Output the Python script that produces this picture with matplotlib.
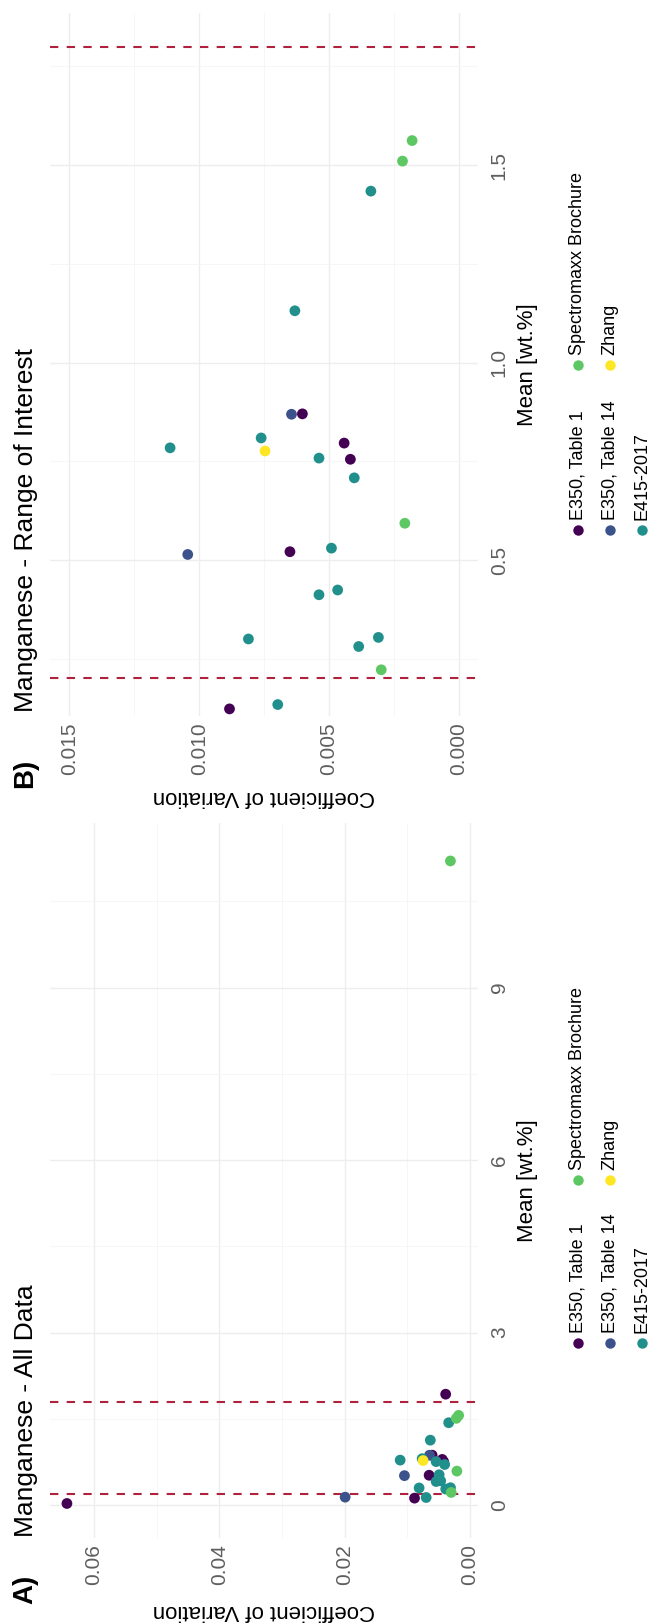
import matplotlib.pyplot as plt
from matplotlib.lines import Line2D
from matplotlib.ticker import FixedLocator

plt.rcParams['font.family'] = ['Liberation Sans', 'DejaVu Sans']

# ==============================
# DATA
# ==============================
SOURCES = ["E350, Table 1", "E350, Table 14", "E415-2017", "Spectromaxx Brochure", "Zhang"]
SOURCE_COLORS = ["#440154", "#3B528B", "#21908C", "#5DC863", "#FDE725"]

# mean [wt.%], coefficient of variation and source of every Mn entry
mean_wt = [1.562, 1.510, 1.434, 1.131, 0.869, 0.870, 0.809, 0.776, 0.784, 0.796,
           0.755, 0.758, 0.708, 0.593, 0.521, 0.530, 0.514, 0.412, 0.424, 0.300,
           0.304, 0.281, 0.222, 0.123, 0.134, 0.03, 0.14, 1.93, 11.2]
cv = [0.00179, 0.00216, 0.00338, 0.00631, 0.00644, 0.00602, 0.00761, 0.00746, 0.01112, 0.00441,
      0.00417, 0.00538, 0.00402, 0.00207, 0.00650, 0.00490, 0.01044, 0.00538, 0.00466, 0.00810,
      0.00309, 0.00385, 0.00298, 0.00883, 0.00697, 0.0643, 0.0199, 0.00386, 0.0031]
source = ["Spectromaxx Brochure", "Spectromaxx Brochure", "E415-2017", "E415-2017", "E350, Table 14",
          "E350, Table 1", "E415-2017", "Zhang", "E415-2017", "E350, Table 1",
          "E350, Table 1", "E415-2017", "E415-2017", "Spectromaxx Brochure", "E350, Table 1",
          "E415-2017", "E350, Table 14", "E415-2017", "E415-2017", "E415-2017",
          "E415-2017", "E415-2017", "Spectromaxx Brochure", "E350, Table 1", "E415-2017",
          "E350, Table 1", "E350, Table 14", "E350, Table 1", "Spectromaxx Brochure"]

RANGE_LIMITS = [0.2, 1.8]   # range of interest, dashed lines

# panel A - all data
A_MEAN_TICKS = [0, 3, 6, 9]
A_MEAN_LABELS = ["0", "3", "6", "9"]
A_CV_TICKS = [0.00, 0.02, 0.04, 0.06]
A_CV_LABELS = ["0.00", "0.02", "0.04", "0.06"]
A_MEAN_LIM = (-0.57, 11.86)
A_CV_LIM = (-0.0013, 0.067)

# panel B - range of interest
B_MEAN_TICKS = [0.5, 1.0, 1.5]
B_MEAN_LABELS = ["0.5", "1.0", "1.5"]
B_CV_TICKS = [0.000, 0.005, 0.010, 0.015]
B_CV_LABELS = ["0.000", "0.005", "0.010", "0.015"]
B_MEAN_LIM = (0.105, 1.885)
B_CV_LIM = (-0.00075, 0.01575)

# ==============================
# FIGURE (page is turned: mean runs upwards, CV runs to the left)
# ==============================
W, H = 653, 1623
fig = plt.figure(figsize=(W / 100, H / 100), dpi=100)
fig.patch.set_facecolor("white")

TICK_COLOR = "#5E5E5E"
GRID_COLOR = "#EDEDED"


def px_axes(x0, y0, x1, y1):
    return fig.add_axes([x0 / W, 1 - y1 / H, (x1 - x0) / W, (y1 - y0) / H])


def minor_between(ticks):
    step = ticks[1] - ticks[0]
    return [t + step / 2 for t in ticks] + [ticks[0] - step / 2]


def draw_panel(ax, cv_lim, mean_lim, cv_ticks, cv_labels, mean_ticks, mean_labels, xlab_y):
    for s, col in zip(SOURCES, SOURCE_COLORS):
        xs = [c for c, src in zip(cv, source) if src == s]
        ys = [m for m, src in zip(mean_wt, source) if src == s]
        ax.scatter(xs, ys, s=60, color=col, edgecolors="none", zorder=3)

    for lim in RANGE_LIMITS:
        ax.axhline(lim, color="#B0203F", lw=1.5, ls=(0, (4, 4)), zorder=2)

    ax.set_xlim(cv_lim[1], cv_lim[0])
    ax.set_ylim(*mean_lim)

    ax.set_xticks(cv_ticks, labels=cv_labels)
    ax.set_yticks(mean_ticks, labels=mean_labels)
    ax.xaxis.set_minor_locator(FixedLocator(minor_between(cv_ticks)))
    ax.yaxis.set_minor_locator(FixedLocator(minor_between(mean_ticks)))
    ax.yaxis.tick_right()
    ax.tick_params(which="both", length=0)
    ax.tick_params(axis="x", pad=4.5)
    ax.tick_params(axis="y", pad=8.5)
    for lbl in ax.get_xticklabels():
        lbl.set(rotation=90, va="top", ha="center", fontsize=15, color=TICK_COLOR)
    for lbl in ax.get_yticklabels():
        lbl.set(rotation=90, va="center", ha="left", fontsize=15, color=TICK_COLOR)

    ax.grid(which="major", color=GRID_COLOR, lw=1.0)
    ax.grid(which="minor", color="#F5F5F5", lw=0.6)
    ax.set_axisbelow(True)
    for sp in ax.spines.values():
        sp.set_visible(False)

    ax.yaxis.set_label_position("right")
    ax.set_ylabel("Mean [wt.%]", fontsize=16, rotation=90, va="center", ha="center")
    ax.yaxis.set_label_coords(1.115, 0.5)
    ax.set_xlabel("Coefficient of Variation", fontsize=16, rotation=180, va="center", ha="center")
    ax.xaxis.set_label_coords(0.5, xlab_y)


def draw_legend(col1_y, col2_y):
    slots = [(578, col1_y), (610, col1_y), (642, col1_y), (578, col2_y), (610, col2_y)]
    for (x, y), s, col in zip(slots, SOURCES, SOURCE_COLORS):
        fig.add_artist(Line2D([x / W], [1 - y / H], transform=fig.transFigure, marker="o",
                              markersize=7.5, color=col, markeredgewidth=0, linestyle="none"))
        fig.text(x / W, 1 - (y - 10) / H, s, rotation=90, ha="center", va="bottom", fontsize=13)


# ---- panel B (top of the page)
axB = px_axes(50, 13, 478, 716)
draw_panel(axB, B_CV_LIM, B_MEAN_LIM, B_CV_TICKS, B_CV_LABELS, B_MEAN_TICKS, B_MEAN_LABELS, -0.115)
fig.text(26 / W, 1 - 712 / H, "Manganese - Range of Interest", rotation=90, ha="center", va="bottom", fontsize=19)
fig.text(25 / W, 1 - 788 / H, "B)", rotation=90, ha="center", va="bottom", fontsize=20, fontweight="bold")
draw_legend(530, 365)

# ---- panel A (bottom of the page)
axA = px_axes(50, 823, 478, 1538)
draw_panel(axA, A_CV_LIM, A_MEAN_LIM, A_CV_TICKS, A_CV_LABELS, A_MEAN_TICKS, A_MEAN_LABELS, -0.1007)
fig.text(26 / W, 1 - 1537 / H, "Manganese - All Data", rotation=90, ha="center", va="bottom", fontsize=19)
fig.text(25 / W, 1 - 1604 / H, "A)", rotation=90, ha="center", va="bottom", fontsize=20, fontweight="bold")
draw_legend(1343, 1180)

fig.savefig("out.png", dpi=100)
